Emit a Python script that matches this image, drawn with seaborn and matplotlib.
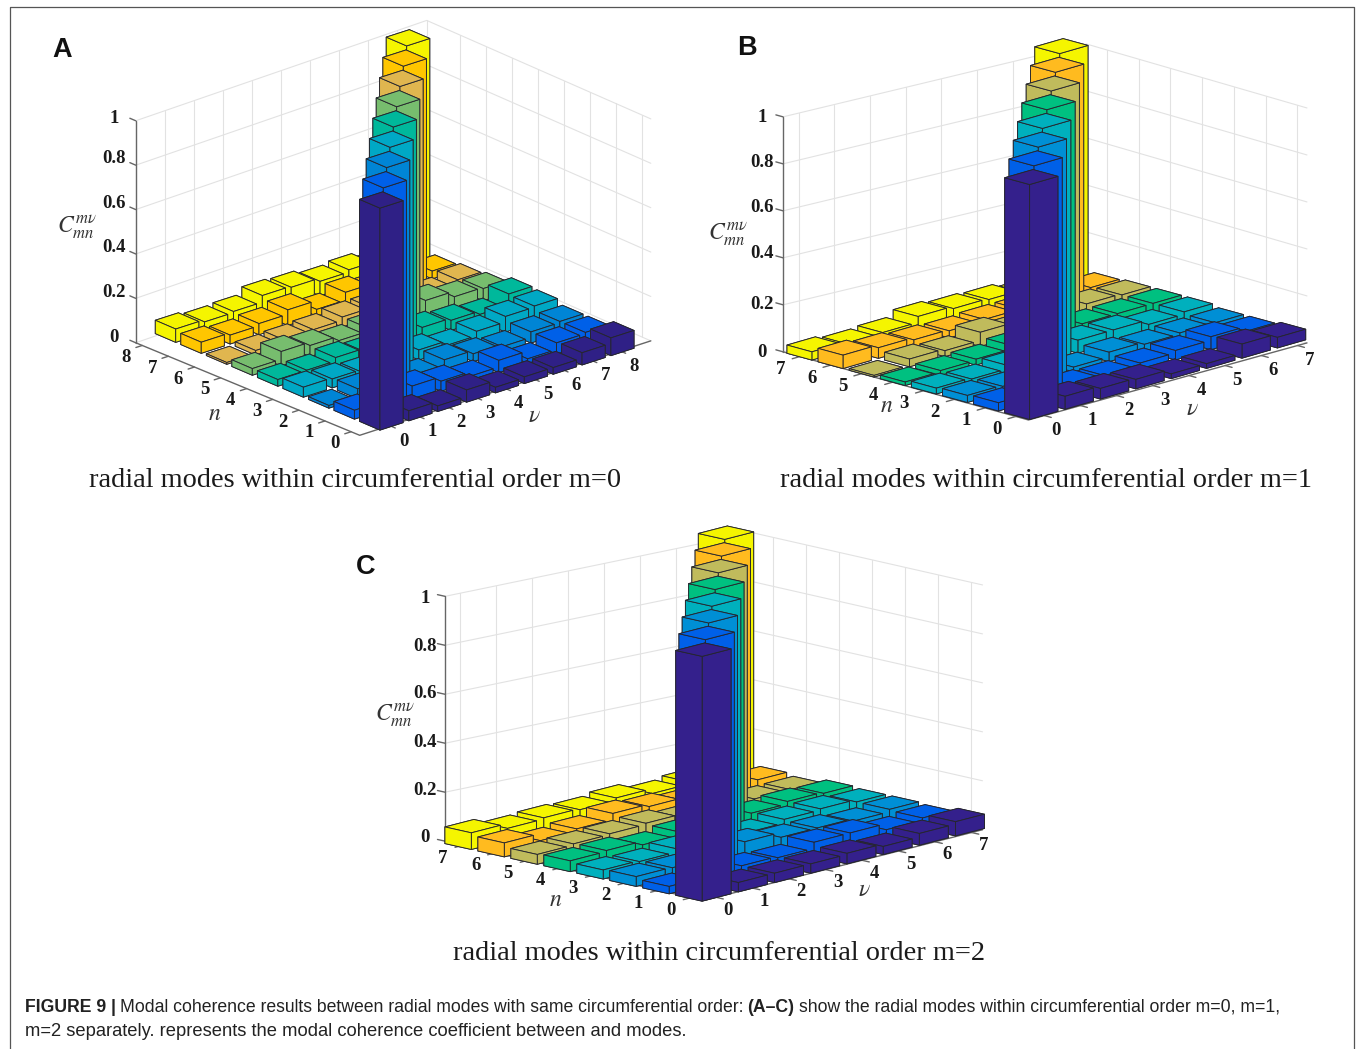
import numpy as np
import seaborn as sns
import matplotlib.pyplot as plt
from matplotlib.lines import Line2D
from mpl_toolkits.mplot3d import proj3d

W, H = 1357, 1049

# coherence values, rows are n, columns are v
heights_a = [
    [1.00, .045, .025, .055, .025, .030, .030, .055, .080],
    [.040, 1.00, .065, .045, .025, .055, .020, .050, .055],
    [.012, .045, 1.00, .025, .050, .035, .025, .050, .055],
    [.045, .040, .030, 1.00, .045, .025, .045, .070, .075],
    [.030, .030, .045, .030, 1.00, .055, .045, .030, .080],
    [.030, .065, .050, .030, .045, 1.00, .085, .060, .055],
    [.008, .020, .025, .030, .045, .045, 1.00, .025, .045],
    [.050, .040, .050, .070, .030, .065, .045, 1.00, .035],
    [.060, .050, .055, .085, .080, .065, .075, .055, 1.00],
]
heights_b = [
    [1.00, .055, .045, .040, .020, .020, .060, .045],
    [.035, 1.00, .025, .020, .030, .040, .055, .035],
    [.030, .025, 1.00, .020, .040, .030, .035, .035],
    [.025, .020, .035, 1.00, .055, .055, .035, .045],
    [.015, .020, .025, .040, 1.00, .045, .045, .045],
    [.007, .033, .025, .060, .035, 1.00, .050, .045],
    [.057, .045, .035, .030, .035, .035, 1.00, .040],
    [.035, .025, .030, .055, .045, .040, .025, 1.00],
]
heights_c = [
    [1.00, .038, .038, .038, .043, .033, .048, .058],
    [.030, 1.00, .038, .033, .058, .058, .033, .043],
    [.040, .038, 1.00, .068, .048, .048, .038, .048],
    [.037, .033, .048, 1.00, .038, .053, .058, .048],
    [.044, .048, .033, .048, 1.00, .048, .058, .053],
    [.040, .045, .048, .053, .038, 1.00, .038, .038],
    [.057, .028, .038, .063, .053, .038, 1.00, .048],
    [.068, .048, .053, .048, .058, .038, .048, 1.00],
]

colors_a = ['#2f2086', '#0060e8', '#0085d5', '#00a8c5', '#00b89b',
            '#77bd6e', '#e0b64f', '#ffc600', '#f5f500']
colors_bc = ['#34208c', '#0060e8', '#008fd5', '#00b0bd', '#00c080',
             '#c0bb5c', '#ffbb1f', '#f5f500']

z_ticks = [0, 0.2, 0.4, 0.6, 0.8, 1]
z_tick_labels = ['0', '0.2', '0.4', '0.6', '0.8', '1']

titles = ['radial modes within circumferential order m=0',
          'radial modes within circumferential order m=1',
          'radial modes within circumferential order m=2']
caption_bold_1 = 'FIGURE 9 |'
caption_1a = 'Modal coherence results between radial modes with same circumferential order:'
caption_bold_2 = '(A\u2013C)'
caption_1b = 'show the radial modes within circumferential order m=0, m=1,'
caption_2 = 'm=2 separately. represents the modal coherence coefficient between and modes.'

sns.set_theme(style='white')
plt.rcParams['mathtext.fontset'] = 'stix'
plt.rcParams['font.family'] = ['Liberation Serif', 'DejaVu Sans']

fig = plt.figure(figsize=(W / 100, H / 100), dpi=100, facecolor='white')


def to_px(ax, v, n, z=0.0):
    x2, y2, _ = proj3d.proj_transform(v, n, z, ax.get_proj())
    px = ax.transData.transform((x2, y2))
    return px[0], H - px[1]


def place(ax, base, v_last, v_px):
    # move and size the axes so bar (0,0) lands on base (pixels from top left)
    for _ in range(4):
        ax.apply_aspect()
        p0 = to_px(ax, 0, 0)
        p1 = to_px(ax, v_last, 0)
        scale = v_px * v_last / (p1[0] - p0[0])
        box = ax.get_position()
        side = box.width * W * scale
        cx = (box.x0 + box.width / 2) * W
        cy = (1 - box.y0 - box.height / 2) * H
        cx = base[0] - (p0[0] - cx) * scale
        cy = base[1] - (p0[1] - cy) * scale
        ax.set_position([(cx - side / 2) / W, 1 - (cy + side / 2) / H, side / W, side / H])


def label(ax, v, n, z, text, dx, dy, **kw):
    x2, y2, _ = proj3d.proj_transform(v, n, z, ax.get_proj())
    ax.annotate(text, xy=(x2, y2), xycoords='data', xytext=(dx, -dy), textcoords='offset pixels',
                ha='center', va='center', annotation_clip=False, zorder=500,
                fontweight='bold', fontsize=13.5, color='#1a1a1a', **kw)


def panel(heights, colors, elev, azim, units, base, v_px, left, back, right, front,
          left_grid, right_grid, z_dx, z_dy, n_off, v_off):
    heights = np.array(heights)
    count = heights.shape[0]
    palette = sns.color_palette(colors)
    ax = fig.add_axes([0.2, 0.2, 800 / W, 800 / H], projection='3d', proj_type='ortho')
    ax.patch.set_visible(False)
    ax.computed_zorder = False
    ax.view_init(elev=elev, azim=azim)
    corners = np.array([left, back, right, front])
    v_lo, n_lo = corners.min(axis=0)
    v_hi, n_hi = corners.max(axis=0)
    ax.set_xlim(v_lo, v_hi)
    ax.set_ylim(n_lo, n_hi)
    ax.set_zlim(0, 1)
    ax.set_box_aspect((units[0] * (v_hi - v_lo), units[1] * (n_hi - n_lo), units[2]))
    ax.set_axis_off()

    left, back, right, front = [np.array(p, dtype=float) for p in (left, back, right, front)]
    grid = dict(color='#e2e2e2', lw=0.8, zorder=1)
    for z in z_ticks[1:]:
        ax.plot([left[0], back[0], right[0]], [left[1], back[1], right[1]], [z, z, z], **grid)
    for t0, dt, num, a, b in [(*left_grid, left, back), (*right_grid, back, right)]:
        for k in range(num):
            p = a + (t0 + k * dt) * (b - a)
            ax.plot([p[0], p[0]], [p[1], p[1]], [0, 1], **grid)
    ax.plot([back[0], back[0]], [back[1], back[1]], [0, 1], **grid)
    ax.plot([left[0], back[0], right[0]], [left[1], back[1], right[1]], [0, 0, 0], **grid)

    axis = dict(color='#666666', lw=1.0, zorder=2)
    ax.plot([left[0], left[0]], [left[1], left[1]], [0, 1], **axis)
    ax.plot([left[0], front[0], right[0]], [left[1], front[1], right[1]], [0, 0, 0], **axis)
    for z, text, dy in zip(z_ticks, z_tick_labels, z_dy):
        ax.plot([left[0], left[0]], [left[1], left[1] + 0.23], [z, z], **axis)
        label(ax, left[0], left[1], z, text, z_dx, dy)
    ticks = np.arange(count)
    for i in ticks:
        edge_v = np.interp(i, [front[1], left[1]], [front[0], left[0]])
        ax.plot([edge_v, edge_v - 0.22], [i, i], [0, 0], **axis)
        label(ax, edge_v, i, 0, str(i), n_off[0], n_off[1])
        edge_n = np.interp(i, [front[0], right[0]], [front[1], right[1]])
        ax.plot([i, i], [edge_n, edge_n - 0.22], [0, 0], **axis)
        label(ax, i, edge_n, 0, str(i), v_off[0], v_off[1])

    # back to front, each bar in its own collection so they overlap properly
    width = 0.8
    order = 3
    for n in ticks[::-1]:
        for v in ticks[::-1]:
            ax.bar3d(v - width / 2, n - width / 2, 0, width, width, heights[n, v],
                     color=palette[n], edgecolor='#26262e', linewidth=0.65, shade=False,
                     zorder=order)
            order += 1
    ax.set_xlim(v_lo, v_hi)
    ax.set_ylim(n_lo, n_hi)
    ax.set_zlim(0, 1)
    place(ax, base, count - 1, v_px)
    return ax


panel(heights_a, colors_a, 21.85, -130.9, (38.2, 39.0, 239.2), (381.3, 422), 28.87,
      left=(-1.21, 8.25), back=(9.17, 8.59), right=(9.07, -0.30), front=(-1.04, -0.33),
      left_grid=(0.0, 0.0997, 10), right_grid=(0.15, 0.1156, 8),
      z_dx=-22, z_dy=[-5, -6, -6, -6, -7, -2], n_off=(-16, 12), v_off=(14, 15.5))
panel(heights_b, colors_bc, 16.3, -135.8, (50.8, 43.4, 244.9), (1031.3, 412), 35.4,
      left=(-0.38, 7.55), back=(7.45, 6.71), right=(7.26, -0.6), front=(-0.44, -0.41),
      left_grid=(0.051, 0.1178, 8), right_grid=(0.0937, 0.1437, 7),
      z_dx=-21, z_dy=[1, 0, -4, -3, -1, 1], n_off=(-19, 13), v_off=(12, 15))
panel(heights_c, colors_bc, 13.9, -137.0, (53.1, 45.1, 252.3), (703.4, 894.5), 36.2,
      left=(-0.26, 7.55), back=(7.34, 6.56), right=(7.3, -0.45), front=(-0.34, -0.38),
      left_grid=(0.047, 0.1175, 8), right_grid=(0.086, 0.1437, 7),
      z_dx=-20, z_dy=[-4, -2, -1, -1, 1, 2], n_off=(-20, 13), v_off=(12, 13))


def put(x, y, text, **kw):
    return fig.text(x / W, 1 - y / H, text, ha=kw.pop('ha', 'center'), va='center', **kw)


sans = ['Liberation Sans', 'DejaVu Sans']
for x, y, text in [(62, 50, 'A'), (747, 48, 'B'), (366, 567, 'C')]:
    put(x, y, text, fontsize=19.5, fontweight='bold', family=sans, color='#111111')
for x, y, text in [(355, 481, titles[0]), (1046, 481, titles[1]), (719, 953, titles[2])]:
    put(x, y, text, fontsize=20.45, color='#1a1a1a')
for x, y in [(215, 415), (887, 407), (556, 900)]:
    put(x, y, r'$n$', fontsize=17, color='#333333')
for x, y in [(534, 417), (1192, 410), (864, 890)]:
    put(x, y, r'$\nu$', fontsize=17, color='#333333')
for x, y in [(77, 227), (728, 234), (395, 715)]:
    put(x, y, r'$C_{mn}^{m\nu}$', fontsize=17, color='#333333')

# caption runs one after the other
renderer = fig.canvas.get_renderer()
x = 25
for text, weight in [(caption_bold_1, 'bold'), (caption_1a, 'normal'),
                     (caption_bold_2, 'bold'), (caption_1b, 'normal')]:
    t = put(x, 1007, text, ha='left', fontsize=12.7, fontweight=weight, family=sans, color='#222222')
    x = t.get_window_extent(renderer).x1 + 4
put(25, 1032, caption_2, ha='left', fontsize=13.2, family=sans, color='#222222')

for xs, ys in [([10, 10, 1354, 1354], [H, 7, 7, H])]:
    fig.add_artist(Line2D(np.array(xs) / W, 1 - np.array(ys) / H, color='#555555', lw=0.9))

fig.savefig('out.png', dpi=100, facecolor='white')
